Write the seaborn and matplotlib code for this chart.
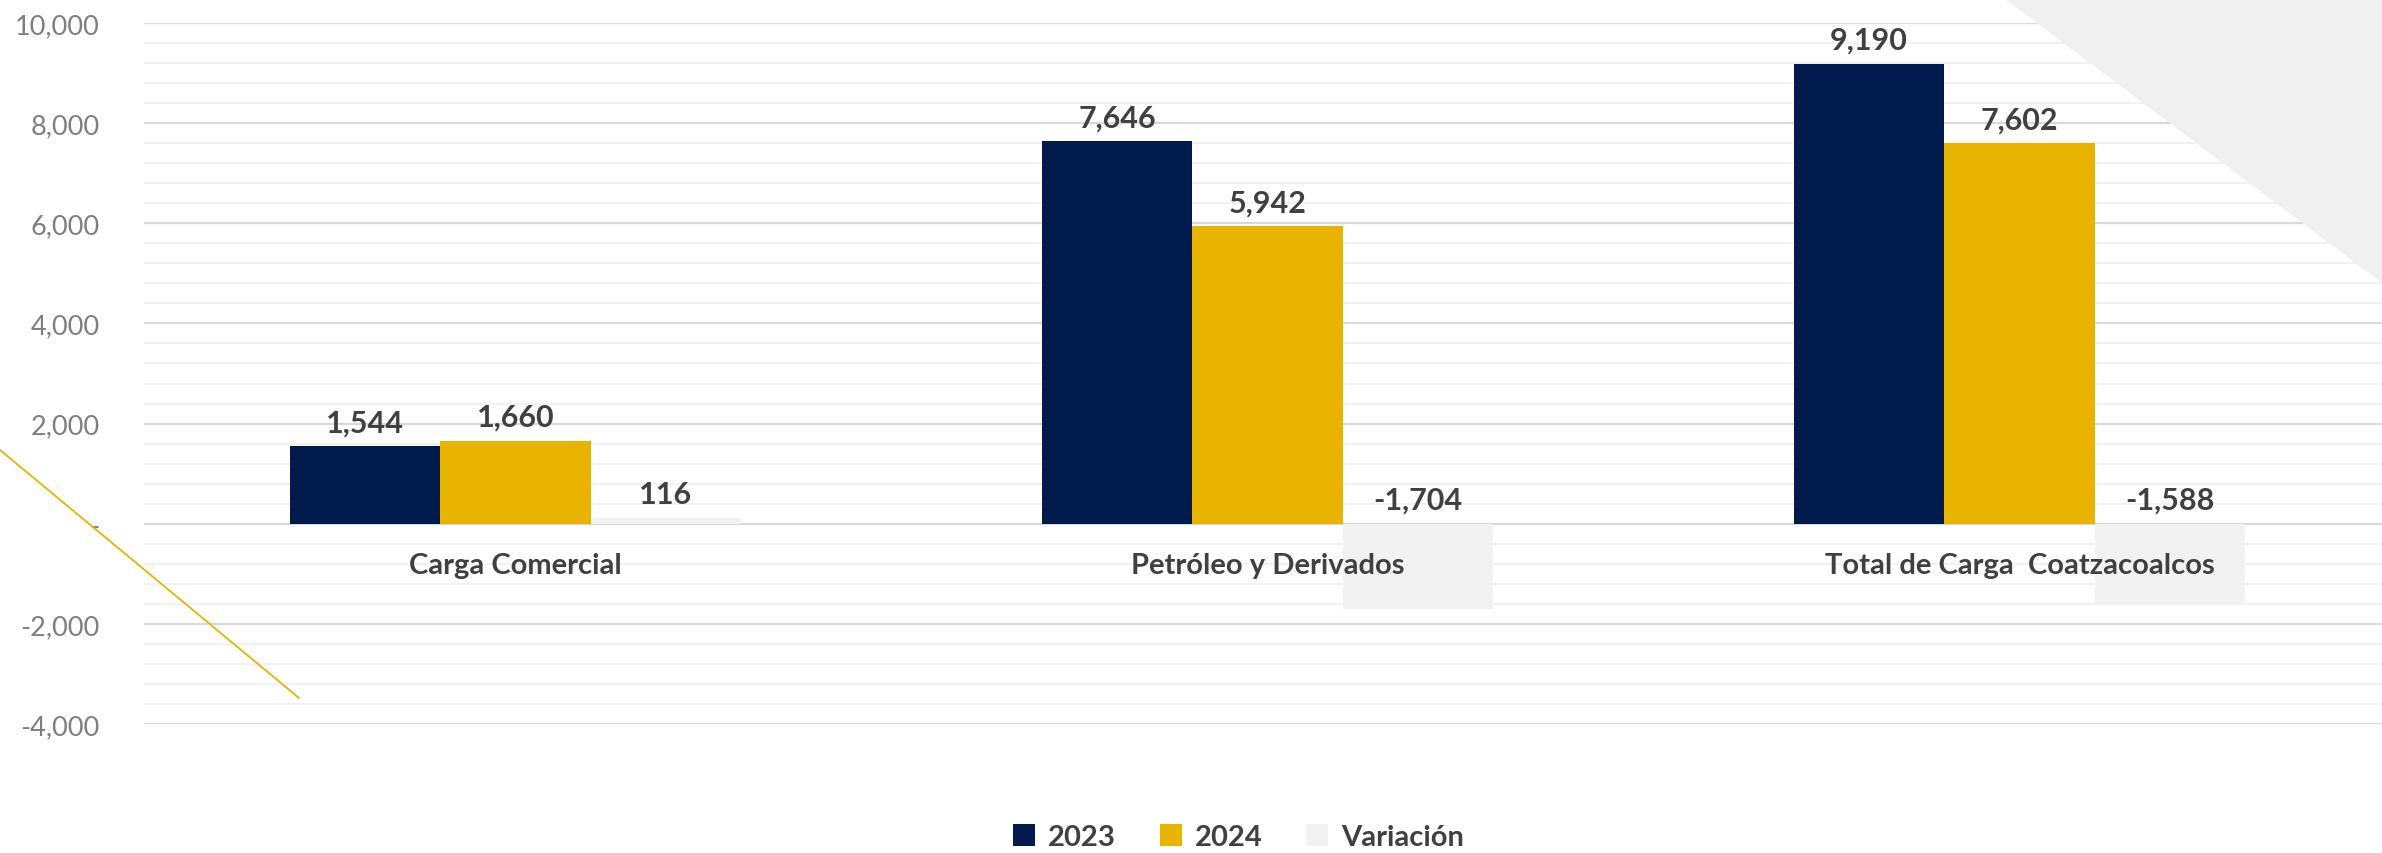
import numpy as np
import pandas as pd
import matplotlib
matplotlib.use("Agg")
import matplotlib.pyplot as plt
import seaborn as sns
from matplotlib.patches import Polygon, Patch
from matplotlib.lines import Line2D
from matplotlib.ticker import MultipleLocator

categories = ["Carga Comercial", "Petróleo y Derivados", "Total de Carga  Coatzacoalcos"]
series_names = ["2023", "2024", "Variación"]
values_2023 = [1544, 7646, 9190]
values_2024 = [1660, 5942, 7602]
values_var = [116, -1704, -1588]
y_ticks = [-4000, -2000, 0, 2000, 4000, 6000, 8000, 10000]
y_tick_labels = ["-4,000", "-2,000", "-", "2,000", "4,000", "6,000", "8,000", "10,000"]
colors = ["#001A4E", "#E8B400", "#F2F2F2"]

df = pd.DataFrame({
    "Categoría": categories * 3,
    "Serie": [s for s in series_names for _ in categories],
    "Valor": values_2023 + values_2024 + values_var,
})

sns.set_theme(style="white")
plt.rcParams["font.family"] = ["Lato", "DejaVu Sans"]

W, H = 2382, 854
fig = plt.figure(figsize=(W / 100, H / 100), dpi=100)
fig.patch.set_facecolor("white")
ax = fig.add_axes([144 / W, 1 - 725 / H, 1 - 144 / W, (725 - 24) / H])
ax.set_facecolor("none")

# decorative background shapes
tri = Polygon([(2005 / W, 1), (1, 1), (1, 1 - 284 / H)], closed=True,
              transform=fig.transFigure, facecolor="#F0F0F0", edgecolor="none", zorder=0)
fig.patches.append(tri)
deco = Line2D([0, 299 / W], [1 - 451 / H, 1 - 699 / H], transform=fig.transFigure,
              color="#E8B400", lw=1.3, zorder=0)
fig.lines.append(deco)

sns.barplot(data=df, x="Categoría", y="Valor", hue="Serie", hue_order=series_names,
            order=categories, palette=colors, width=0.6, saturation=1, ax=ax,
            legend=False, errorbar=None, zorder=3, edgecolor="none", linewidth=0)

ax.set_xlim(-0.494, 2.482)
ax.set_ylim(-4000, 10000)
ax.set_axisbelow(True)
ax.yaxis.set_minor_locator(MultipleLocator(400))
ax.set_yticks(y_ticks, y_tick_labels)
ax.grid(axis="y", which="major", color="#D9D9D9", lw=1.6, zorder=0)
ax.grid(axis="y", which="minor", color="#F2F2F2", lw=1.6, zorder=0)
ax.grid(axis="x", visible=False)
for s in ax.spines.values():
    s.set_visible(False)
ax.tick_params(axis="y", which="both", length=0, pad=32, labelsize=19.5, labelcolor="#7F7F7F")
ax.tick_params(axis="x", length=0)
ax.set_xticklabels([])
ax.set_xlabel("")
ax.set_ylabel("")

# data labels
for cont in ax.containers:
    for bar in cont:
        v = bar.get_height()
        xc = bar.get_x() + bar.get_width() / 2
        ax.annotate(f"{v:,.0f}", xy=(xc, max(v, 0)), xytext=(0, 7), textcoords="offset points",
                    ha="center", va="bottom", fontsize=22, fontweight="bold", color="#404040", zorder=5)

# category labels
for i, cat in enumerate(categories):
    ax.annotate(cat, xy=(i, 0), xytext=(0, -29.5), textcoords="offset points",
                ha="center", va="center", fontsize=21, fontweight="bold", color="#404040", zorder=5)

handles = [Patch(facecolor=c, edgecolor="none") for c in colors]
leg = fig.legend(handles, series_names, loc="center", bbox_to_anchor=(0.52, 1 - 838 / H), ncol=3,
                 frameon=False, handlelength=0.75, handleheight=0.75, columnspacing=1.5,
                 handletextpad=0.45, prop=dict(weight="bold", size=21))
for t in leg.get_texts():
    t.set_color("#404040")

fig.savefig("out.png", dpi=100)
